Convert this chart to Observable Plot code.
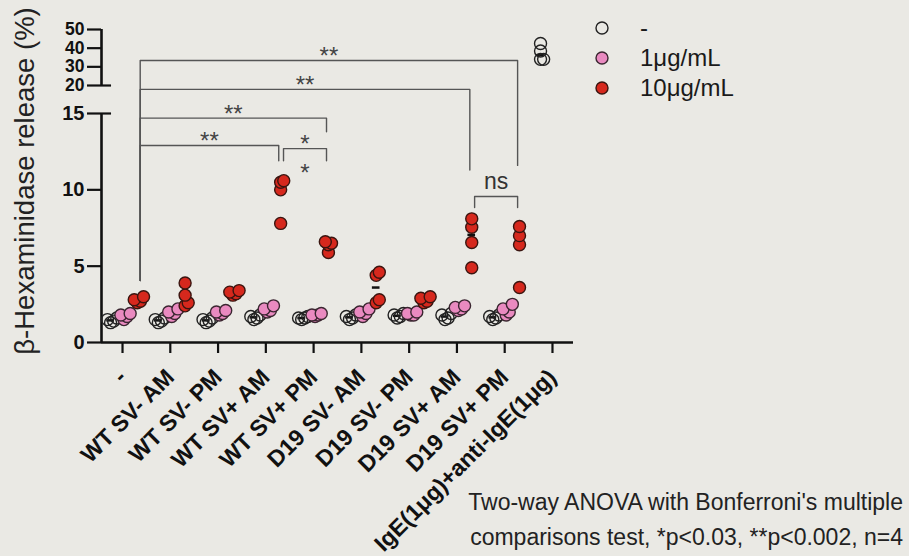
<!DOCTYPE html>
<html><head><meta charset="utf-8">
<script src="https://cdn.jsdelivr.net/npm/d3@7"></script>
<script src="https://cdn.jsdelivr.net/npm/@observablehq/plot@0.6"></script>
<style>
html,body{margin:0;padding:0;background:#eae9e4;}
#wrap{position:relative;width:909px;height:556px;overflow:hidden;font-family:"Liberation Sans",Arial,sans-serif;color:#1a1a1a;}
#chart{position:absolute;left:0;top:0;}
#legend{position:absolute;left:590px;top:13px;}
#legend .row{height:30px;display:flex;align-items:center;font-size:24px;}
#legend svg{margin-right:26px;}
#caption{position:absolute;right:6px;top:485px;text-align:right;font-size:23px;line-height:35px;color:#222;white-space:nowrap;}
</style></head>
<body><div id="wrap"><div id="chart"></div><div id="legend"></div><div id="caption"></div></div>
<script>
// ---------- data ----------
const categories = ["-", "WT SV- AM", "WT SV- PM", "WT SV+ AM", "WT SV+ PM", "D19 SV- AM", "D19 SV- PM", "D19 SV+ AM", "D19 SV+ PM", "IgE(1μg)+anti-IgE(1μg)"];
const treatments = ["-", "1μg/mL", "10μg/mL"];
const valuesNone = [
  [1.3, 1.5, 1.4, 1.6], [1.4, 1.6, 1.5, 1.3], [1.5, 1.4, 1.6, 1.3], [1.7, 1.5, 1.8, 1.6], [1.6, 1.5, 1.7, 1.6],
  [1.6, 1.8, 1.7, 1.5], [1.8, 1.6, 1.7, 1.9], [1.9, 1.6, 1.5, 1.8], [1.7, 1.6, 1.5, 1.8], [42.5, 38.5, 34, 34]
];
const values1 = [
  [1.9, 1.7, 1.5, 1.8], [2.2, 1.9, 1.7, 2.0], [2.1, 1.9, 1.8, 2.0], [2.4, 2.0, 2.1, 2.2], [1.8, 1.7, 1.9, 1.8],
  [2.2, 1.9, 1.7, 2.0], [1.9, 1.8, 2.0, 1.8], [2.4, 2.1, 2.2, 2.3], [2.5, 2.2, 1.8, 2.0], null
];
const values10 = [
  [3.0, 2.8, 2.6, 2.7], [3.9, 3.1, 2.6, 2.4], [3.4, 3.2, 3.1, 3.3], [10.6, 10.5, 10.0, 7.8], [6.6, 6.4, 6.5, 5.9],
  [4.6, 4.4, 2.8, 2.6], [3.0, 2.7, 2.6, 2.9], [8.1, 7.55, 6.55, 4.9], [7.6, 7.0, 6.4, 3.6], null
];
const yTicksLow = [0, 5, 10, 15];
const yTicksHigh = [20, 30, 40, 50];
const yBreak = [15, 20];
// significance brackets (category indices, y levels in data units)
const bracketFrom  = [0, 0, 0, 0, 3, 7];
const bracketTo    = [8, 7, 4, 3, 4, 8];
const bracketLevel = [33.4, 19.3, 14.7, 12.9, 12.7, 9.56];
const bracketLegFrom = [4.06, 4.06, 4.06, 4.06, 11.9, 8.84];
const bracketLegTo   = [11.6, 11.3, 13.8, 11.9, 11.9, 8.84];
const bracketLabel = ["**", "**", "**", "**", "*", "ns"];
const extraLabelBracket = [4];
const extraLabelText = ["*"];
const yTitle = "β-Hexaminidase release (%)";
const captionLines = ["Two-way ANOVA with Bonferroni's multiple", "comparisons test, *p<0.03, **p<0.002, n=4"];

// ---------- layout / style ----------
const W = 909, H = 556;
const xDomain = [-0.44, categories.length - 0.56];
const yDomain = [0, yBreak[0], yBreak[1], 50];
const yRange = [342, 113, 85, 29];
const groupOffset = [-0.25, 0.03, 0.31];
const colors = ["transparent", "#e98ac0", "#d6281d"];
const strokes = ["#222", "#3a2630", "#3a1510"];
const bracketLeftOff = 0.37, bracketRightOff = 0.27;
const yPix = d3.scaleLinear().domain(yDomain).range(yRange);

// build rows with small GraphPad-like scatter for overlapping points
const series = [valuesNone, values1, values10];
const rows = [];
const medians = [];
categories.forEach((c, i) => {
  series.forEach((arr, k) => {
    const vals = arr[i];
    if (!vals) return;
    const sorted = vals.map(v => v).sort((a, b) => a - b);
    let prevPix = null, cluster = 0;
    sorted.forEach(v => {
      const p = yPix(v);
      if (prevPix !== null && Math.abs(p - prevPix) < 7) cluster++; else cluster = 0;
      const jit = cluster === 0 ? 0 : (cluster % 2 ? 1 : -1) * 0.065 * Math.ceil(cluster / 2);
      rows.push({x: i + groupOffset[k] + jit, y: v, t: treatments[k], k});
      prevPix = p;
    });
    medians.push({x: i + groupOffset[k], y: d3.median(vals)});
  });
});

const bracketPaths = [];
const bracketTexts = [];
bracketFrom.forEach((a, j) => {
  const xa = a + bracketLeftOff, xb = bracketTo[j] + bracketRightOff;
  bracketPaths.push({id: j, x: xa, y: bracketLegFrom[j]}, {id: j, x: xa, y: bracketLevel[j]},
                    {id: j, x: xb, y: bracketLevel[j]}, {id: j, x: xb, y: bracketLegTo[j]});
  bracketTexts.push({x: (xa + xb) / 2, y: bracketLevel[j], text: bracketLabel[j], ns: bracketLabel[j] === "ns"});
});
const extraTexts = extraLabelBracket.map((j, n) => ({
  x: (bracketFrom[j] + bracketLeftOff + bracketTo[j] + bracketRightOff) / 2, y: bracketLevel[j], text: extraLabelText[n]
}));

const plot = Plot.plot({
  width: W, height: H,
  marginLeft: 101, marginRight: W - 573, marginTop: 29, marginBottom: H - 342,
  style: {fontFamily: "Liberation Sans, Arial, sans-serif", background: "transparent", color: "#111", overflow: "visible"},
  x: {type: "linear", domain: xDomain},
  y: {type: "linear", domain: yDomain, range: yRange},
  color: {type: "ordinal", domain: treatments, range: colors},
  marks: [
    Plot.axisY({ticks: yTicksLow, tickSize: 14, tickPadding: 3, fontSize: 20, fontWeight: "bold", strokeWidth: 2.2, label: null, tickFormat: d => d}),
    Plot.axisY({ticks: yTicksHigh, tickSize: 14, tickPadding: 3, fontSize: 17.5, fontWeight: "bold", strokeWidth: 2.2, label: null, tickFormat: d => d}),
    Plot.axisX({ticks: d3.range(categories.length), tickFormat: i => categories[i], tickRotate: -45, tickSize: 11,
                tickPadding: 20, fontSize: 23, fontWeight: "bold", strokeWidth: 2.2, label: null}),
    Plot.ruleX([xDomain[0]], {y1: yDomain[0], y2: yDomain[1], strokeWidth: 2.6, stroke: "#111"}),
    Plot.ruleX([xDomain[0]], {y1: yDomain[2], y2: yDomain[3], strokeWidth: 2.6, stroke: "#111"}),
    Plot.ruleY(yBreak, {x1: xDomain[0], x2: xDomain[0] + 0.21, strokeWidth: 2.2, stroke: "#111"}),
    Plot.ruleY([0], {strokeWidth: 2.6, stroke: "#111"}),
    Plot.line(bracketPaths, {x: "x", y: "y", z: "id", stroke: "#555", strokeWidth: 1.4, curve: "linear"}),
    Plot.text(bracketTexts.filter(d => !d.ns), {x: "x", y: "y", text: "text", fontSize: 24, fill: "#444", dy: -4}),
    Plot.text(bracketTexts.filter(d => d.ns), {x: "x", y: "y", text: "text", fontSize: 23, fill: "#333", dy: -15}),
    Plot.text(extraTexts, {x: "x", y: "y", text: "text", fontSize: 24, fill: "#444", dy: 25}),
    Plot.ruleY(medians, {y: "y", x1: d => d.x - 0.08, x2: d => d.x + 0.08, stroke: "#111", strokeWidth: 2.5}),
    Plot.dot(rows, {x: "x", y: "y", r: 6, fill: "t", stroke: d => strokes[d.k], strokeWidth: 1.4}),
    Plot.text([yTitle], {frameAnchor: "left", textAnchor: "middle", rotate: -90, dx: -76, dy: -5, fontSize: 27.5, fill: "#222"})
  ]
});
document.getElementById("chart").appendChild(plot);

// legend
const legend = document.getElementById("legend");
treatments.forEach((t, k) => {
  const row = document.createElement("div");
  row.className = "row";
  row.innerHTML = `<svg width="24" height="24"><circle cx="12" cy="12" r="6" fill="${colors[k]}" stroke="${strokes[k]}" stroke-width="1.4"/></svg><span>${t}</span>`;
  legend.appendChild(row);
});
document.getElementById("caption").innerHTML = captionLines.map(l => `<div>${l}</div>`).join("");
</script>
</body></html>
